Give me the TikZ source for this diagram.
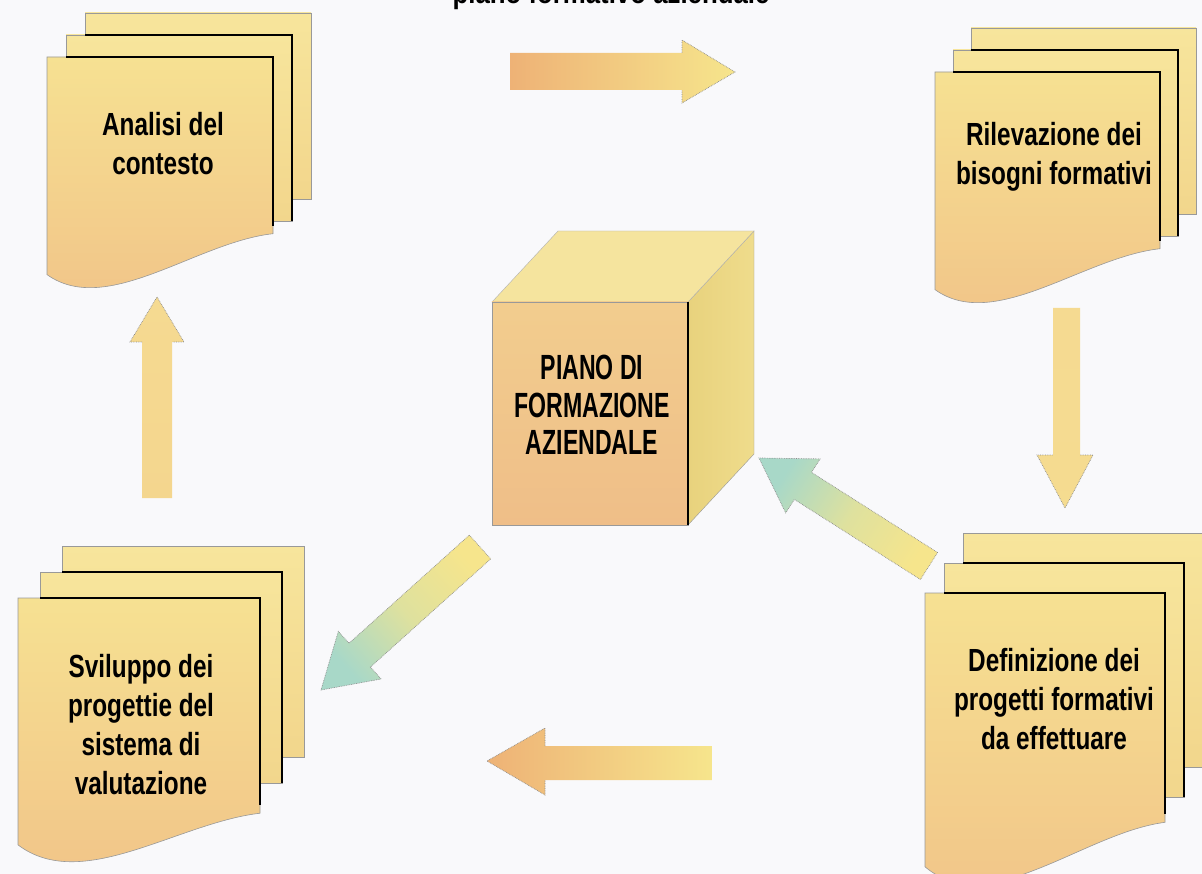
\documentclass[tikz,border=0pt]{standalone}
\usepackage{fontspec}
\newfontfamily\docfont[FakeStretch=0.76]{Liberation Sans Bold}
\newfontfamily\titlefont[FakeStretch=0.86]{Liberation Sans Bold}
\newfontfamily\cubefont[FakeStretch=0.66]{Liberation Sans Bold}
\definecolor{bg}{RGB}{249,249,251}
\definecolor{docTop}{RGB}{246,225,146}
\definecolor{docBot}{RGB}{241,195,136}
\definecolor{backTop}{RGB}{247,229,156}
\definecolor{backBot}{RGB}{242,214,140}
\definecolor{cubeFrontTop}{RGB}{242,205,142}
\definecolor{cubeFrontBot}{RGB}{239,190,136}
\definecolor{cubeTop}{RGB}{245,228,158}
\definecolor{cubeSideL}{RGB}{232,210,125}
\definecolor{cubeSideR}{RGB}{239,220,140}
\definecolor{arrOrange}{RGB}{238,178,118}
\definecolor{arrYellow}{RGB}{246,229,140}
\definecolor{arrTeal}{RGB}{168,216,200}
\definecolor{arrUp}{RGB}{245,218,145}
\tikzset{
 sheetline/.style={draw=black!40, line width=0.6pt},
 blackedge/.style={draw=black, line width=2.2pt},
 doctext/.style={align=center, font=\docfont\fontsize{32}{39}\selectfont, inner sep=0pt},
 cubetext/.style={align=center, font=\cubefont\fontsize{35}{37.5}\selectfont, inner sep=0pt},
 arrowline/.style={draw=black!45, densely dotted, line width=0.7pt},
}
\newcommand\docstack[7]{%
 \begin{scope}[shift={(#1,#2)}]
 \shade[top color=backTop, bottom color=backBot, sheetline] ({2*#5},{-2*#6}) rectangle ++(#3,#4);
 \shade[top color=backTop, bottom color=backBot, sheetline] (#5,-#6) rectangle ++(#3,#4);
 \draw[blackedge] ({2*#5},-#6) -- ({#5+#3},-#6) -- ({#5+#3},{#4-#6});
 \shade[top color=docTop, bottom color=docBot, sheetline] (0,0) -- (#3,0) -- (#3,{#7*#4}) .. controls ({0.66*#3},{(#7+0.045)*#4}) and ({0.265*#3},{1.40*#4}) .. (0,{1.17*#4}) -- cycle;
 \draw[blackedge] (#5,0) -- (#3,0) -- (#3,{#7*#4-8});
 \end{scope}}
\begin{document}
\begin{tikzpicture}[x=1pt,y=-1pt]
\useasboundingbox (0,0) rectangle (1202,874);
\fill[bg] (0,0) rectangle (1202,874);

% title (cut by the top edge, as in the reference)
\node[font=\titlefont\fontsize{30}{30}\selectfont, anchor=base, inner sep=0pt] (title) at (611,4) {piano formativo aziendale};

% document stacks
\docstack{47}{57}{226}{186}{19}{22}{0.95}
\docstack{935}{72}{225}{186}{18}{22}{0.95}
\docstack{18}{598}{242}{211}{22}{26}{1.02}
\docstack{925}{593}{240}{234}{19}{30}{0.98}

\node[doctext] (tl) at (163,144) {Analisi del\\contesto};
\node[doctext] (tr) at (1054,157) {Rilevazione dei\\bisogni formativi};
\node[doctext] (bl) at (141,725) {Sviluppo dei\\progettie del\\sistema di\\valutazione};
\node[doctext] (br) at (1054,699) {Definizione dei\\progetti formativi\\da effettuare};

% cube
\shade[left color=cubeSideL, right color=cubeSideR, draw=black!40] (688,302) -- (754,231) -- (754,454) -- (688,525) -- cycle;
\fill[cubeTop, draw=black!30] (492,302) -- (558,231) -- (754,231) -- (688,302) -- cycle;
\shade[top color=cubeFrontTop, bottom color=cubeFrontBot, draw=black!40] (492,302) rectangle (688,525);
\draw[black, line width=2pt] (688,302) -- (688,525);
\node[cubetext] (cube) at (592,405) {PIANO DI\\FORMAZIONE\\AZIENDALE};

% top arrow (right)
\shade[left color=arrOrange, right color=arrYellow] (510,53) -- (682,53) -- (682,40) -- (735,72) -- (682,103) -- (682,90) -- (510,90) -- cycle;
\draw[arrowline] (682,53) -- (682,40) -- (735,72) -- (682,103) -- (682,90);
% left arrow (up)
\shade[top color=arrUp, bottom color=arrUp!90!arrOrange] (142,498) -- (142,342) -- (130,342) -- (157,297) -- (184,342) -- (172,342) -- (172,498) -- cycle;
\draw[arrowline] (142,342) -- (130,342) -- (157,297) -- (184,342) -- (172,342);
% right arrow (down)
\shade[top color=arrUp, bottom color=arrUp!85!arrYellow] (1053,308) -- (1080,308) -- (1080,455) -- (1093,455) -- (1065,508) -- (1037,455) -- (1053,455) -- cycle;
\draw[arrowline] (1080,455) -- (1093,455) -- (1065,508) -- (1037,455) -- (1053,455);
% bottom arrow (left)
\shade[left color=arrOrange, right color=arrYellow] (712,746) -- (545,746) -- (545,728) -- (487,761) -- (545,795) -- (545,780) -- (712,780) -- cycle;
\draw[arrowline] (545,746) -- (545,728) -- (487,761) -- (545,795) -- (545,780);
% diagonal: cube -> lower left
\shade[top color=arrTeal, bottom color=arrYellow, middle color=arrYellow!70!arrTeal, shading angle=132] (469.3,535.1) -- (490.7,558.9) -- (370.4,667.1) -- (381.1,679.0) -- (321,690) -- (338.3,631.4) -- (349.0,643.3) -- cycle;
\draw[arrowline] (469.3,535.1) -- (490.7,558.9) -- (370.4,667.1) -- (381.1,679.0) -- (321,690) -- (338.3,631.4) -- (349.0,643.3) -- cycle;
% diagonal: lower right -> cube
\shade[top color=arrTeal, bottom color=arrYellow, middle color=arrYellow!70!arrTeal, shading angle=58] (937.6,552.5) -- (811.5,472.4) -- (820.1,458.9) -- (759,458) -- (785.7,512.9) -- (794.3,499.4) -- (920.4,579.5) -- cycle;
\draw[arrowline] (937.6,552.5) -- (811.5,472.4) -- (820.1,458.9) -- (759,458) -- (785.7,512.9) -- (794.3,499.4) -- (920.4,579.5) -- cycle;
\end{tikzpicture}
\end{document}
